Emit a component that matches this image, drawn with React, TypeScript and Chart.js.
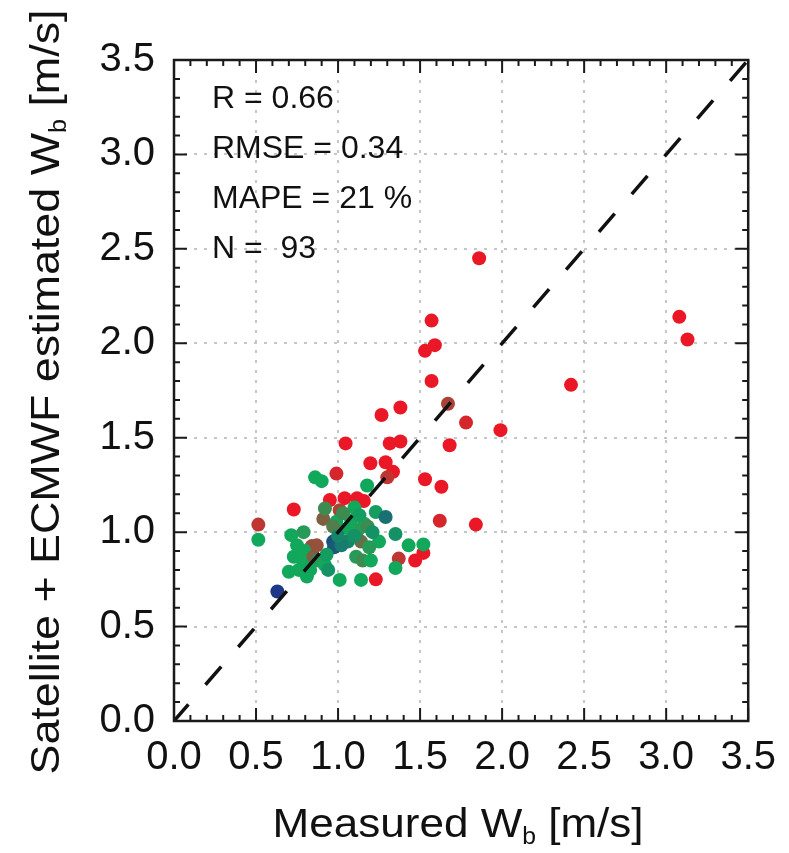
import React, { useEffect, useRef } from "react";
import { Chart, registerables } from "chart.js";

Chart.register(...registerables);

// ---- data ----
const measuredWb = [
  1.86, 3.08, 3.13, 1.57, 1.59, 1.53, 1.57, 2.42, 1.38, 1.67,
  1.78, 1.99, 1.38, 1.68, 1.335, 1.53, 1.63, 1.62, 1.84, 1.265,
  1.046, 1.315, 1.197, 1.29, 1.3, 0.99, 0.73, 0.514, 0.95, 1.04,
  1.116, 1.157, 1.01, 1.52, 1.47, 1.37, 0.84, 1.23, 0.91, 0.514,
  0.86, 0.9, 1.177, 0.92, 1.1, 1.23, 1.29, 0.99, 0.97, 1.08,
  1.16, 1.12, 1.18, 0.97, 0.976, 1.06, 1.14, 1.25, 1.35, 1.43,
  1.52, 1.35, 0.715, 0.79, 0.8, 0.73, 0.79, 0.85, 0.88, 0.7,
  0.76, 0.81, 0.92, 0.94, 1.01, 1.11, 1.15, 1.2, 1.14, 0.63,
  1.03, 1.13, 0.93, 1.02, 1.19, 0.83, 1.06, 1.21, 0.87, 1.0,
  1.1, 0.75,
];
const estimatedWb = [
  2.45, 2.14, 2.02, 2.12, 1.99, 1.96, 1.8, 1.78, 1.66, 1.68,
  1.58, 1.54, 1.48, 1.46, 1.32, 1.28, 1.24, 1.06, 1.04, 1.62,
  1.47, 1.47, 1.365, 1.37, 1.29, 1.31, 1.12, 1.04, 1.17, 1.18,
  1.18, 1.165, 1.116, 0.89, 0.85, 0.86, 0.926, 0.75, 1.07, 0.96,
  1.29, 1.27, 1.247, 1.125, 1.13, 1.107, 1.08, 1.055, 1.03, 1.063,
  1.045, 1.01, 1.03, 0.95, 0.92, 0.95, 0.95, 0.95, 0.99, 0.93,
  0.935, 0.81, 0.984, 1.0, 0.9, 0.87, 0.84, 0.87, 0.85, 0.79,
  0.8, 0.765, 0.826, 0.8, 0.747, 0.87, 0.85, 0.85, 0.747, 0.686,
  1.1, 1.09, 0.88, 0.93, 0.92, 0.8, 1.02, 1.0, 0.93, 0.98,
  0.98, 0.93,
];
// colour variable: 0 = blue, 0.5 = green, 1 = red
const colourValue = [
  1, 1, 1, 1, 1, 1, 1, 1, 1, 0.85,
  0.95, 1, 1, 1, 1, 1, 1, 0.95, 1, 1,
  1, 1, 1, 1, 0.9, 0.95, 1, 0.9, 1, 1,
  1, 1, 0.85, 1, 1, 0.9, 0.8, 1, 0.75, 0.5,
  0.5, 0.5, 0.5, 0.6, 0.5, 0.45, 0.25, 0.5, 0.65, 0.5,
  0.5, 0.55, 0.6, 0.1, 0.15, 0.35, 0.7, 0.5, 0.4, 0.5,
  0.5, 0.5, 0.5, 0.55, 0.5, 0.5, 0.5, 0.75, 0.55, 0.5,
  0.5, 0.5, 0.5, 0.4, 0.5, 0.55, 0.6, 0.5, 0.5, 0,
  0.6, 0.45, 0.45, 0.3, 0.55, 0.5, 0.5, 0.4, 0.8, 0.35,
  0.4, 0.5,
];
const oneToOne = [0, 3.5];
const axisMin = 0;
const axisMax = 3.5;
const tickStep = 0.5;
const statsLines = ["R = 0.66", "RMSE = 0.34", "MAPE = 21 %", "N =  93"];
const xTitle = ["Measured W", "b", " [m/s]"];
const yTitle = ["Satellite + ECMWF estimated W", "b", " [m/s]"];

const FONT = "'Liberation Sans', Arial, Helvetica, sans-serif";

function colourFor(v: number): string {
  const blue = [30, 55, 135];
  const green = [18, 168, 92];
  const red = [234, 24, 38];
  let a: number[], b: number[], t: number;
  if (v <= 0.5) {
    a = blue; b = green; t = v / 0.5;
  } else {
    a = green; b = red; t = (v - 0.5) / 0.5;
  }
  const c = a.map((ai, i) => Math.round(ai + (b[i] - ai) * t));
  return `rgb(${c[0]},${c[1]},${c[2]})`;
}

function drawTitle(ctx: CanvasRenderingContext2D, parts: string[], target: number, size: number) {
  const mainFont = `${size}px ${FONT}`;
  const subFont = `${Math.round(size * 0.55)}px ${FONT}`;
  ctx.font = mainFont;
  const w0 = ctx.measureText(parts[0]).width;
  const w2 = ctx.measureText(parts[2]).width;
  ctx.font = subFont;
  const w1 = ctx.measureText(parts[1]).width;
  const total = w0 + w1 + w2;
  const s = target / total;
  ctx.scale(s, 1);
  let x = -total / 2;
  ctx.textBaseline = "alphabetic";
  ctx.textAlign = "left";
  ctx.font = mainFont;
  ctx.fillText(parts[0], x, 0);
  x += w0;
  ctx.font = subFont;
  ctx.fillText(parts[1], x, size * 0.17);
  x += w1;
  ctx.font = mainFont;
  ctx.fillText(parts[2], x, 0);
}

const framePlugin = {
  id: "frame",
  beforeDraw(chart: any) {
    const ctx = chart.ctx;
    ctx.save();
    ctx.fillStyle = "#ffffff";
    ctx.fillRect(0, 0, chart.width, chart.height);
    ctx.restore();
  },
  afterDraw(chart: any) {
    const ctx: CanvasRenderingContext2D = chart.ctx;
    const { left, right, top, bottom } = chart.chartArea;
    const xs = chart.scales.x;
    const ys = chart.scales.y;
    ctx.save();
    ctx.strokeStyle = "#1a1a1a";
    ctx.lineWidth = 2;
    ctx.setLineDash([]);
    const n = Math.round((axisMax - axisMin) / 0.1);
    for (let i = 0; i <= n; i++) {
      const v = axisMin + i * 0.1;
      const len = i % 5 === 0 ? 13 : 6;
      const px = xs.getPixelForValue(v);
      const py = ys.getPixelForValue(v);
      ctx.beginPath();
      ctx.moveTo(px, bottom); ctx.lineTo(px, bottom - len);
      ctx.moveTo(px, top); ctx.lineTo(px, top + len);
      ctx.moveTo(left, py); ctx.lineTo(left + len, py);
      ctx.moveTo(right, py); ctx.lineTo(right - len, py);
      ctx.stroke();
    }
    ctx.lineWidth = 2.5;
    ctx.strokeRect(left, top, right - left, bottom - top);

    // statistics
    ctx.fillStyle = "#111111";
    ctx.font = `32px ${FONT}`;
    ctx.textAlign = "left";
    ctx.textBaseline = "alphabetic";
    statsLines.forEach((t, i) => ctx.fillText(t, left + 38, top + 48 + i * 50));

    // axis titles
    ctx.save();
    ctx.translate((left + right) / 2 - 3, 837);
    drawTitle(ctx, xTitle, 371, 41);
    ctx.restore();

    ctx.save();
    ctx.translate(59, 392);
    ctx.rotate(-Math.PI / 2);
    drawTitle(ctx, yTitle, 765, 41);
    ctx.restore();

    ctx.restore();
  },
};

export default function App() {
  const ref = useRef<HTMLCanvasElement | null>(null);
  useEffect(() => {
    if (!ref.current) return;
    const points = measuredWb.map((x, i) => ({ x, y: estimatedWb[i] }));
    const colours = colourValue.map(colourFor);
    const chart = new Chart(ref.current, {
      type: "scatter",
      data: {
        datasets: [
          {
            type: "line",
            data: oneToOne.map((v) => ({ x: v, y: v })),
            borderColor: "#111111",
            borderWidth: 3.5,
            borderDash: [24, 26],
            borderDashOffset: 2,
            pointRadius: 0,
            fill: false,
            order: 0,
          } as any,
          {
            type: "scatter",
            data: points,
            pointRadius: 7,
            pointBackgroundColor: colours,
            pointBorderWidth: 0,
            pointBorderColor: colours,
            order: 1,
          } as any,
        ],
      },
      options: {
        responsive: false,
        animation: false,
        devicePixelRatio: 1,
        events: [],
        layout: { padding: { top: 60, right: 34, left: 0, bottom: 0 } },
        plugins: { legend: { display: false }, tooltip: { enabled: false } },
        scales: {
          x: {
            type: "linear",
            min: axisMin,
            max: axisMax,
            afterFit: (s: any) => { s.height = 132; },
            ticks: {
              stepSize: tickStep,
              padding: 13,
              color: "#111111",
              font: { family: FONT, size: 40 },
              callback: (v: any) => Number(v).toFixed(1),
              maxRotation: 0,
              autoSkip: false,
            },
            grid: { color: "#c6c6c6", lineWidth: 2, drawTicks: false },
            border: { display: false, dash: [3, 7] },
          },
          y: {
            type: "linear",
            min: axisMin,
            max: axisMax,
            afterFit: (s: any) => { s.width = 174; },
            ticks: {
              stepSize: tickStep,
              padding: 19,
              color: "#111111",
              font: { family: FONT, size: 40 },
              callback: (v: any) => Number(v).toFixed(1),
              autoSkip: false,
            },
            grid: { color: "#c6c6c6", lineWidth: 2, drawTicks: false },
            border: { display: false, dash: [3, 7] },
          },
        },
      },
      plugins: [framePlugin],
    });
    return () => chart.destroy();
  }, []);
  return (
    <div style={{ position: "absolute", left: 0, top: 0, width: 789, height: 853, background: "#fff" }}>
      <canvas ref={ref} width={789} height={853} style={{ display: "block" }} />
    </div>
  );
}
